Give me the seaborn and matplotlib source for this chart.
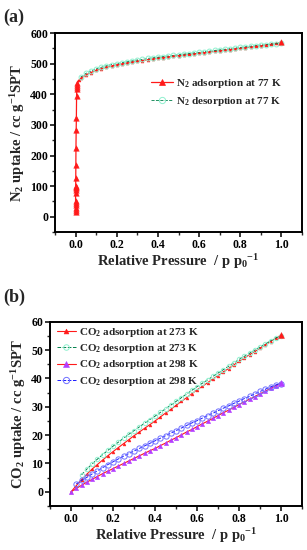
import matplotlib
matplotlib.use("Agg")
import matplotlib.pyplot as plt
import seaborn as sns
from matplotlib.ticker import MultipleLocator

# ---- panel (a): N2 isotherm at 77 K ----
n2_ads_p = [0.00001, 0.00002, 0.00003, 0.00005, 0.00007, 0.0001, 0.0002, 0.0003,
            0.0004, 0.0005, 0.0007, 0.001, 0.0015, 0.002, 0.003, 0.004, 0.005,
            0.006, 0.007, 0.008, 0.009,
            0.015, 0.025, 0.05, 0.075, 0.1, 0.125, 0.15, 0.175, 0.2, 0.225, 0.25,
            0.275, 0.3, 0.325, 0.35, 0.375, 0.4, 0.425, 0.45, 0.475, 0.5, 0.525,
            0.55, 0.575, 0.6, 0.625, 0.65, 0.675, 0.7, 0.725, 0.75, 0.775, 0.8,
            0.825, 0.85, 0.875, 0.9, 0.925, 0.95, 0.975, 1.0]
n2_ads_v = [15, 22, 30, 38, 45, 50, 78, 88, 93, 97, 100, 125, 170, 225, 282, 322,
            395, 418, 425, 430, 437,
            445, 452, 463, 471, 478, 483, 488, 492, 496, 499, 502, 505, 508, 510,
            513, 515, 518, 520, 522, 524, 526, 528, 530, 532, 534, 536, 538, 540,
            542, 544, 546, 548, 550, 552, 554, 556, 558, 561, 563, 566, 570]
N_LOW = 21  # points of the steep low-pressure rise

n2_des_p = [0.025, 0.05, 0.075, 0.1, 0.125, 0.15, 0.175, 0.2, 0.225, 0.25, 0.275,
            0.3, 0.325, 0.35, 0.375, 0.4, 0.425, 0.45, 0.475, 0.5, 0.525, 0.55,
            0.575, 0.6, 0.625, 0.65, 0.675, 0.7, 0.725, 0.75, 0.775, 0.8, 0.825,
            0.85, 0.875, 0.9, 0.925, 0.95, 0.975, 1.0]
n2_des_v = [456, 468, 476, 483, 488, 493, 497, 500, 503, 506, 509, 512, 514, 517,
            519, 521, 523, 525, 527, 529, 531, 533, 535, 537, 539, 541, 543, 545,
            547, 549, 551, 553, 555, 557, 559, 561, 562, 564, 565, 566]

# ---- panel (b): CO2 isotherms ----
co2_p = [0.0, 0.025, 0.05, 0.075, 0.1, 0.125, 0.15, 0.175, 0.2, 0.225, 0.25, 0.275,
         0.3, 0.325, 0.35, 0.375, 0.4, 0.425, 0.45, 0.475, 0.5, 0.525, 0.55, 0.575,
         0.6, 0.625, 0.65, 0.675, 0.7, 0.725, 0.75, 0.775, 0.8, 0.825, 0.85, 0.875,
         0.9, 0.925, 0.95, 0.975, 1.0]
co2_ads_273 = [0.0, 2.2, 4.3, 6.2, 8.0, 9.6, 11.2, 12.7, 14.2, 15.6, 17.0, 18.4,
               19.8, 21.1, 22.4, 23.7, 25.0, 26.4, 27.8, 29.1, 30.5, 31.9, 33.2,
               34.6, 36.0, 37.2, 38.5, 39.8, 41.0, 42.3, 43.5, 44.8, 46.0, 47.2,
               48.4, 49.5, 50.7, 51.9, 53.0, 54.2, 55.3]
co2_des_273_p = co2_p[2:]
co2_des_273 = [6.0, 8.0, 9.8, 11.5, 13.1, 14.6, 16.1, 17.5, 18.9, 20.3, 21.6, 22.9,
               24.2, 25.5, 26.7, 28.0, 29.3, 30.6, 31.9, 33.2, 34.5, 35.8, 37.1,
               38.3, 39.5, 40.7, 41.9, 43.1, 44.3, 45.5, 46.7, 47.8, 48.9, 50.0,
               51.1, 52.2, 53.3, 54.3, 55.0]
co2_ads_298 = [0.0, 1.2, 2.3, 3.4, 4.4, 5.4, 6.4, 7.3, 8.2, 9.1, 10.0, 10.9, 11.8,
               12.7, 13.6, 14.5, 15.3, 16.3, 17.2, 18.2, 19.1, 20.1, 21.1, 22.0,
               23.0, 24.0, 24.9, 25.9, 26.9, 27.9, 28.8, 29.8, 30.8, 31.7, 32.7,
               33.6, 34.6, 35.5, 36.5, 37.4, 38.3]
co2_des_298_p = co2_p[1:]
co2_des_298 = [2.8, 4.0, 5.1, 6.3, 7.4, 8.5, 9.6, 10.6, 11.6, 12.6, 13.5, 14.4,
               15.3, 16.2, 17.1, 18.0, 18.9, 19.8, 20.7, 21.6, 22.5, 23.4, 24.3,
               25.1, 26.0, 26.9, 27.7, 28.6, 29.5, 30.3, 31.2, 32.0, 32.9, 33.7,
               34.6, 35.4, 36.2, 37.0, 37.7, 38.2]

RED = "#ff1a1a"
GREEN_LINE = "#00804a"
MINT = "#8ff0cf"
PURPLE = "#b33cff"
BLUE = "#1a1aff"
BLUE_MK = "#7070ff"

sns.set_style("ticks")
plt.rcParams["font.family"] = ["Liberation Serif", "DejaVu Serif"]
plt.rcParams["font.weight"] = "bold"
plt.rcParams["axes.labelweight"] = "bold"
plt.rcParams["mathtext.fontset"] = "custom"
plt.rcParams["mathtext.rm"] = "Liberation Serif:bold"
plt.rcParams["mathtext.it"] = "Liberation Serif:bold"
plt.rcParams["mathtext.bf"] = "Liberation Serif:bold"

fig = plt.figure(figsize=(3.07, 5.5), dpi=100)
ax1 = fig.add_axes([0.179, 0.578, 0.805, 0.362])
ax2 = fig.add_axes([0.163, 0.08, 0.821, 0.335])


def style_axis(ax, xlab, ylab):
    for s in ax.spines.values():
        s.set_linewidth(1.4)
        s.set_color("black")
    ax.tick_params(which="major", direction="out", length=3.5, width=1.1,
                   labelsize=8.5, pad=1.5, colors="black")
    ax.tick_params(which="minor", direction="out", length=2, width=1.0)
    ax.set_xlabel(xlab, fontsize=10.5, fontweight="bold", labelpad=1)
    ax.set_ylabel(ylab, fontsize=10.5, fontweight="bold", labelpad=2)
    for t in ax.get_xticklabels() + ax.get_yticklabels():
        t.set_fontweight("bold")


def big_legend(ax, anchor, sizes, hl, spacing):
    leg = ax.legend(loc="upper left", bbox_to_anchor=anchor, frameon=False,
                    fontsize=8, handlelength=hl, handletextpad=0.3,
                    labelspacing=spacing, borderaxespad=0)
    for h, s in zip(leg.legend_handles, sizes):
        h.set_markersize(s)
    return leg


# panel (a)
sns.lineplot(x=n2_ads_p, y=n2_ads_v, ax=ax1, sort=False, estimator=None,
             color=RED, linewidth=0.9, marker="^", markersize=2,
             markeredgecolor=RED, markerfacecolor=RED, markeredgewidth=0.5,
             label=r"N$_2$ adsorption at 77 K")
sns.lineplot(x=n2_des_p, y=n2_des_v, ax=ax1, sort=False, estimator=None,
             color=GREEN_LINE, linewidth=0.6, linestyle="--", marker="o",
             markersize=3.5, markerfacecolor="none", markeredgecolor=MINT,
             markeredgewidth=0.7, label=r"N$_2$ desorption at 77 K")
# larger triangles on the steep rise and the last point
sns.scatterplot(x=n2_ads_p[:N_LOW] + n2_ads_p[-1:], y=n2_ads_v[:N_LOW] + n2_ads_v[-1:],
                ax=ax1, marker="^", s=16, color=RED, edgecolor=RED, linewidth=0.3,
                zorder=5, legend=False)
ax1.set_xlim(-0.1, 1.1)
ax1.set_ylim(-50, 600)
ax1.set_xticks([0.0, 0.2, 0.4, 0.6, 0.8, 1.0])
ax1.set_xticklabels(["0.0", "0.2", "0.4", "0.6", "0.8", "1.0"])
ax1.xaxis.set_minor_locator(MultipleLocator(0.1))
ax1.yaxis.set_major_locator(MultipleLocator(100))
ax1.yaxis.set_minor_locator(MultipleLocator(50))
style_axis(ax1, r"Relative Pressure  / p p$_0$$^{-1}$",
           r"N$_2$ uptake / cc g$^{-1}$SPT")
big_legend(ax1, (0.37, 0.80), [4.5, 4.5], 2.0, 0.45)

# panel (b)
sns.lineplot(x=co2_p, y=co2_ads_273, ax=ax2, sort=False, estimator=None,
             color=RED, linewidth=0.8, marker="^", markersize=2,
             markeredgecolor=RED, markerfacecolor=RED, markeredgewidth=0.4,
             label=r"CO$_2$ adsorption at 273 K")
sns.lineplot(x=co2_des_273_p, y=co2_des_273, ax=ax2, sort=False, estimator=None,
             color=GREEN_LINE, linewidth=0.7, linestyle="--", marker="o",
             markersize=3.2, markerfacecolor="none", markeredgecolor=MINT,
             markeredgewidth=0.7, label=r"CO$_2$ desorption at 273 K")
sns.lineplot(x=co2_p, y=co2_ads_298, ax=ax2, sort=False, estimator=None,
             color=RED, linewidth=0.8, marker="^", markersize=3,
             markeredgecolor=PURPLE, markerfacecolor=PURPLE, markeredgewidth=0.4,
             label=r"CO$_2$ adsorption at 298 K")
sns.lineplot(x=co2_des_298_p, y=co2_des_298, ax=ax2, sort=False, estimator=None,
             color=BLUE, linewidth=0.7, linestyle="--", marker="o", markersize=3.8,
             markerfacecolor="none", markeredgecolor=BLUE_MK, markeredgewidth=0.7,
             label=r"CO$_2$ desorption at 298 K")
# larger end markers at p = 1.0
sns.scatterplot(x=co2_p[-1:], y=co2_ads_273[-1:], ax=ax2, marker="^", s=18,
                color=RED, edgecolor=RED, zorder=5, legend=False)
sns.scatterplot(x=co2_p[-1:], y=co2_ads_298[-1:], ax=ax2, marker="^", s=18,
                color=PURPLE, edgecolor=PURPLE, zorder=5, legend=False)
ax2.set_xlim(-0.1, 1.1)
ax2.set_ylim(-5, 60)
ax2.set_xticks([0.0, 0.2, 0.4, 0.6, 0.8, 1.0])
ax2.set_xticklabels(["0.0", "0.2", "0.4", "0.6", "0.8", "1.0"])
ax2.xaxis.set_minor_locator(MultipleLocator(0.1))
ax2.yaxis.set_major_locator(MultipleLocator(10))
ax2.yaxis.set_minor_locator(MultipleLocator(5))
style_axis(ax2, r"Relative Pressure  / p p$_0$$^{-1}$",
           r"CO$_2$ uptake / cc g$^{-1}$SPT")
big_legend(ax2, (0.01, 1.0), [3.5, 4, 4, 4.5], 1.7, 0.28)

fig.text(0.01, 0.985, "(a)", fontsize=13, fontweight="bold", va="top")
fig.text(0.01, 0.475, "(b)", fontsize=13, fontweight="bold", va="top")

fig.savefig("out.png", dpi=100)
